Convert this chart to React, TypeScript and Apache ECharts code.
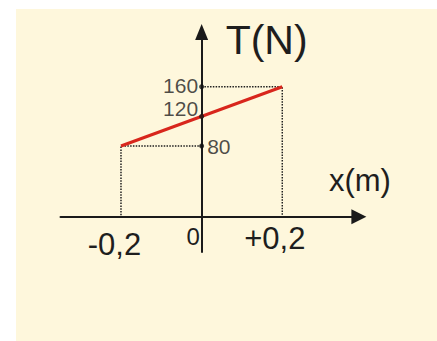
import React, { useEffect, useRef } from "react";
import * as echarts from "echarts";

// Position x (m) and tension T (N)
const X_TICKS = [-0.2, 0, 0.2];
const X_TICK_LABELS = ["-0,2", "0", "+0,2"];
const T_LEVELS = [160, 120, 80];
const T_LEVEL_LABELS = ["160", "120", "80"];
const LINE_X = [-0.2, 0.2];
const LINE_T = [80, 160];

// Visible extent of the axes and the T value where the x axis crosses
const X_RANGE = [-0.35, 0.39];
const T_RANGE = [-63, 234];
const X_AXIS_AT_T = -15.4;

const FONT = "'Liberation Sans', Arial, Helvetica, sans-serif";
const INK = "#1e1e1e";
const AXIS_INK = "#1a1a1a";

export default function App() {
  const ref = useRef<HTMLDivElement>(null);

  useEffect(() => {
    if (!ref.current) return;
    const chart = echarts.init(ref.current, null, { renderer: "svg" });

    const richKeys = ["neg", "zero", "pos"];
    const endPts = LINE_X.map((x, i) => [x, LINE_T[i]]);
    const guideRight = [
      [0, LINE_T[1]],
      [LINE_X[1], LINE_T[1]],
      [LINE_X[1], X_AXIS_AT_T],
    ];
    const guideLeft = [
      [0, LINE_T[0]],
      [LINE_X[0], LINE_T[0]],
      [LINE_X[0], X_AXIS_AT_T],
    ];

    const labelPlacement: Record<string, any> = {
      "160": { position: "left", distance: 1, offset: [0, -1] },
      "120": { position: "left", distance: 1, offset: [0, -8] },
      "80": { position: "right", distance: 3 },
    };

    const guideStyle = {
      color: "#1f1f1f",
      width: 1.5,
      type: [1.5, 1.3] as any,
    };

    chart.setOption({
      animation: false,
      textStyle: { fontFamily: FONT },
      grid: { left: 44.5, top: 22.9, width: 298.4, height: 220.1 },
      xAxis: {
        type: "value",
        min: X_RANGE[0],
        max: X_RANGE[1],
        axisLine: {
          onZero: true,
          onZeroAxisIndex: 1,
          symbol: ["none", "triangle"],
          symbolSize: [15, 15],
          lineStyle: { color: AXIS_INK, width: 2 },
        },
        axisTick: { show: false },
        splitLine: { show: false },
        axisLabel: {
          customValues: X_TICKS,
          // labels are laid out from the grid's bottom edge; pull them up under the crossing line
          margin: -29,
          formatter: (v: number) => {
            const i = X_TICKS.findIndex((t) => Math.abs(t - v) < 1e-9);
            return i < 0 ? "" : `{${richKeys[i]}|${X_TICK_LABELS[i]}}`;
          },
          rich: {
            neg: { fontSize: 31, color: INK, fontFamily: FONT, padding: [6, 13, 0, 0] },
            zero: { fontSize: 24, color: INK, fontFamily: FONT, padding: [1, 17, 0, 0] },
            pos: { fontSize: 31, color: INK, fontFamily: FONT, padding: [0, 15, 0, 0] },
          },
        },
        name: "x(m)",
        nameLocation: "end",
        nameGap: -30,
        nameTextStyle: {
          fontSize: 31,
          color: INK,
          fontFamily: FONT,
          align: "left",
          verticalAlign: "bottom",
          padding: [0, 0, 21, 0],
        },
      },
      yAxis: [
        {
          type: "value",
          min: T_RANGE[0],
          max: T_RANGE[1],
          axisLine: {
            onZero: true,
            symbol: ["none", "triangle"],
            symbolSize: [13, 16],
            lineStyle: { color: AXIS_INK, width: 2 },
          },
          axisTick: { show: false },
          axisLabel: { show: false },
          splitLine: { show: false },
          name: "T(N)",
          nameLocation: "end",
          nameGap: 12,
          nameTextStyle: {
            fontSize: 41,
            color: INK,
            fontFamily: FONT,
            align: "left",
            verticalAlign: "top",
            padding: [0, 0, 0, 24],
          },
        },
        {
          // shifted scale whose zero marks where the x axis crosses
          type: "value",
          show: false,
          min: T_RANGE[0] - X_AXIS_AT_T,
          max: T_RANGE[1] - X_AXIS_AT_T,
          splitLine: { show: false },
        },
      ],
      series: [
        {
          type: "line",
          data: guideRight,
          symbol: "none",
          lineStyle: guideStyle,
          z: 1,
        },
        {
          type: "line",
          data: guideLeft,
          symbol: "none",
          lineStyle: guideStyle,
          z: 1,
        },
        {
          type: "line",
          data: endPts,
          symbol: "none",
          lineStyle: { color: "#d8261c", width: 3 },
          z: 3,
        },
        {
          type: "scatter",
          symbolSize: 5,
          itemStyle: { color: "#111" },
          z: 4,
          data: T_LEVELS.map((t, i) => ({
            value: [0, t],
            label: {
              show: true,
              formatter: T_LEVEL_LABELS[i],
              fontSize: 21,
              lineHeight: 17,
              color: INK,
              fontFamily: FONT,
              ...labelPlacement[T_LEVEL_LABELS[i]],
            },
          })),
        },
      ],
    });

    return () => chart.dispose();
  }, []);

  return (
    <div
      ref={ref}
      style={{
        position: "absolute",
        left: 16,
        top: 9,
        width: 421,
        height: 332,
        background: "#fef7dc",
      }}
    />
  );
}
